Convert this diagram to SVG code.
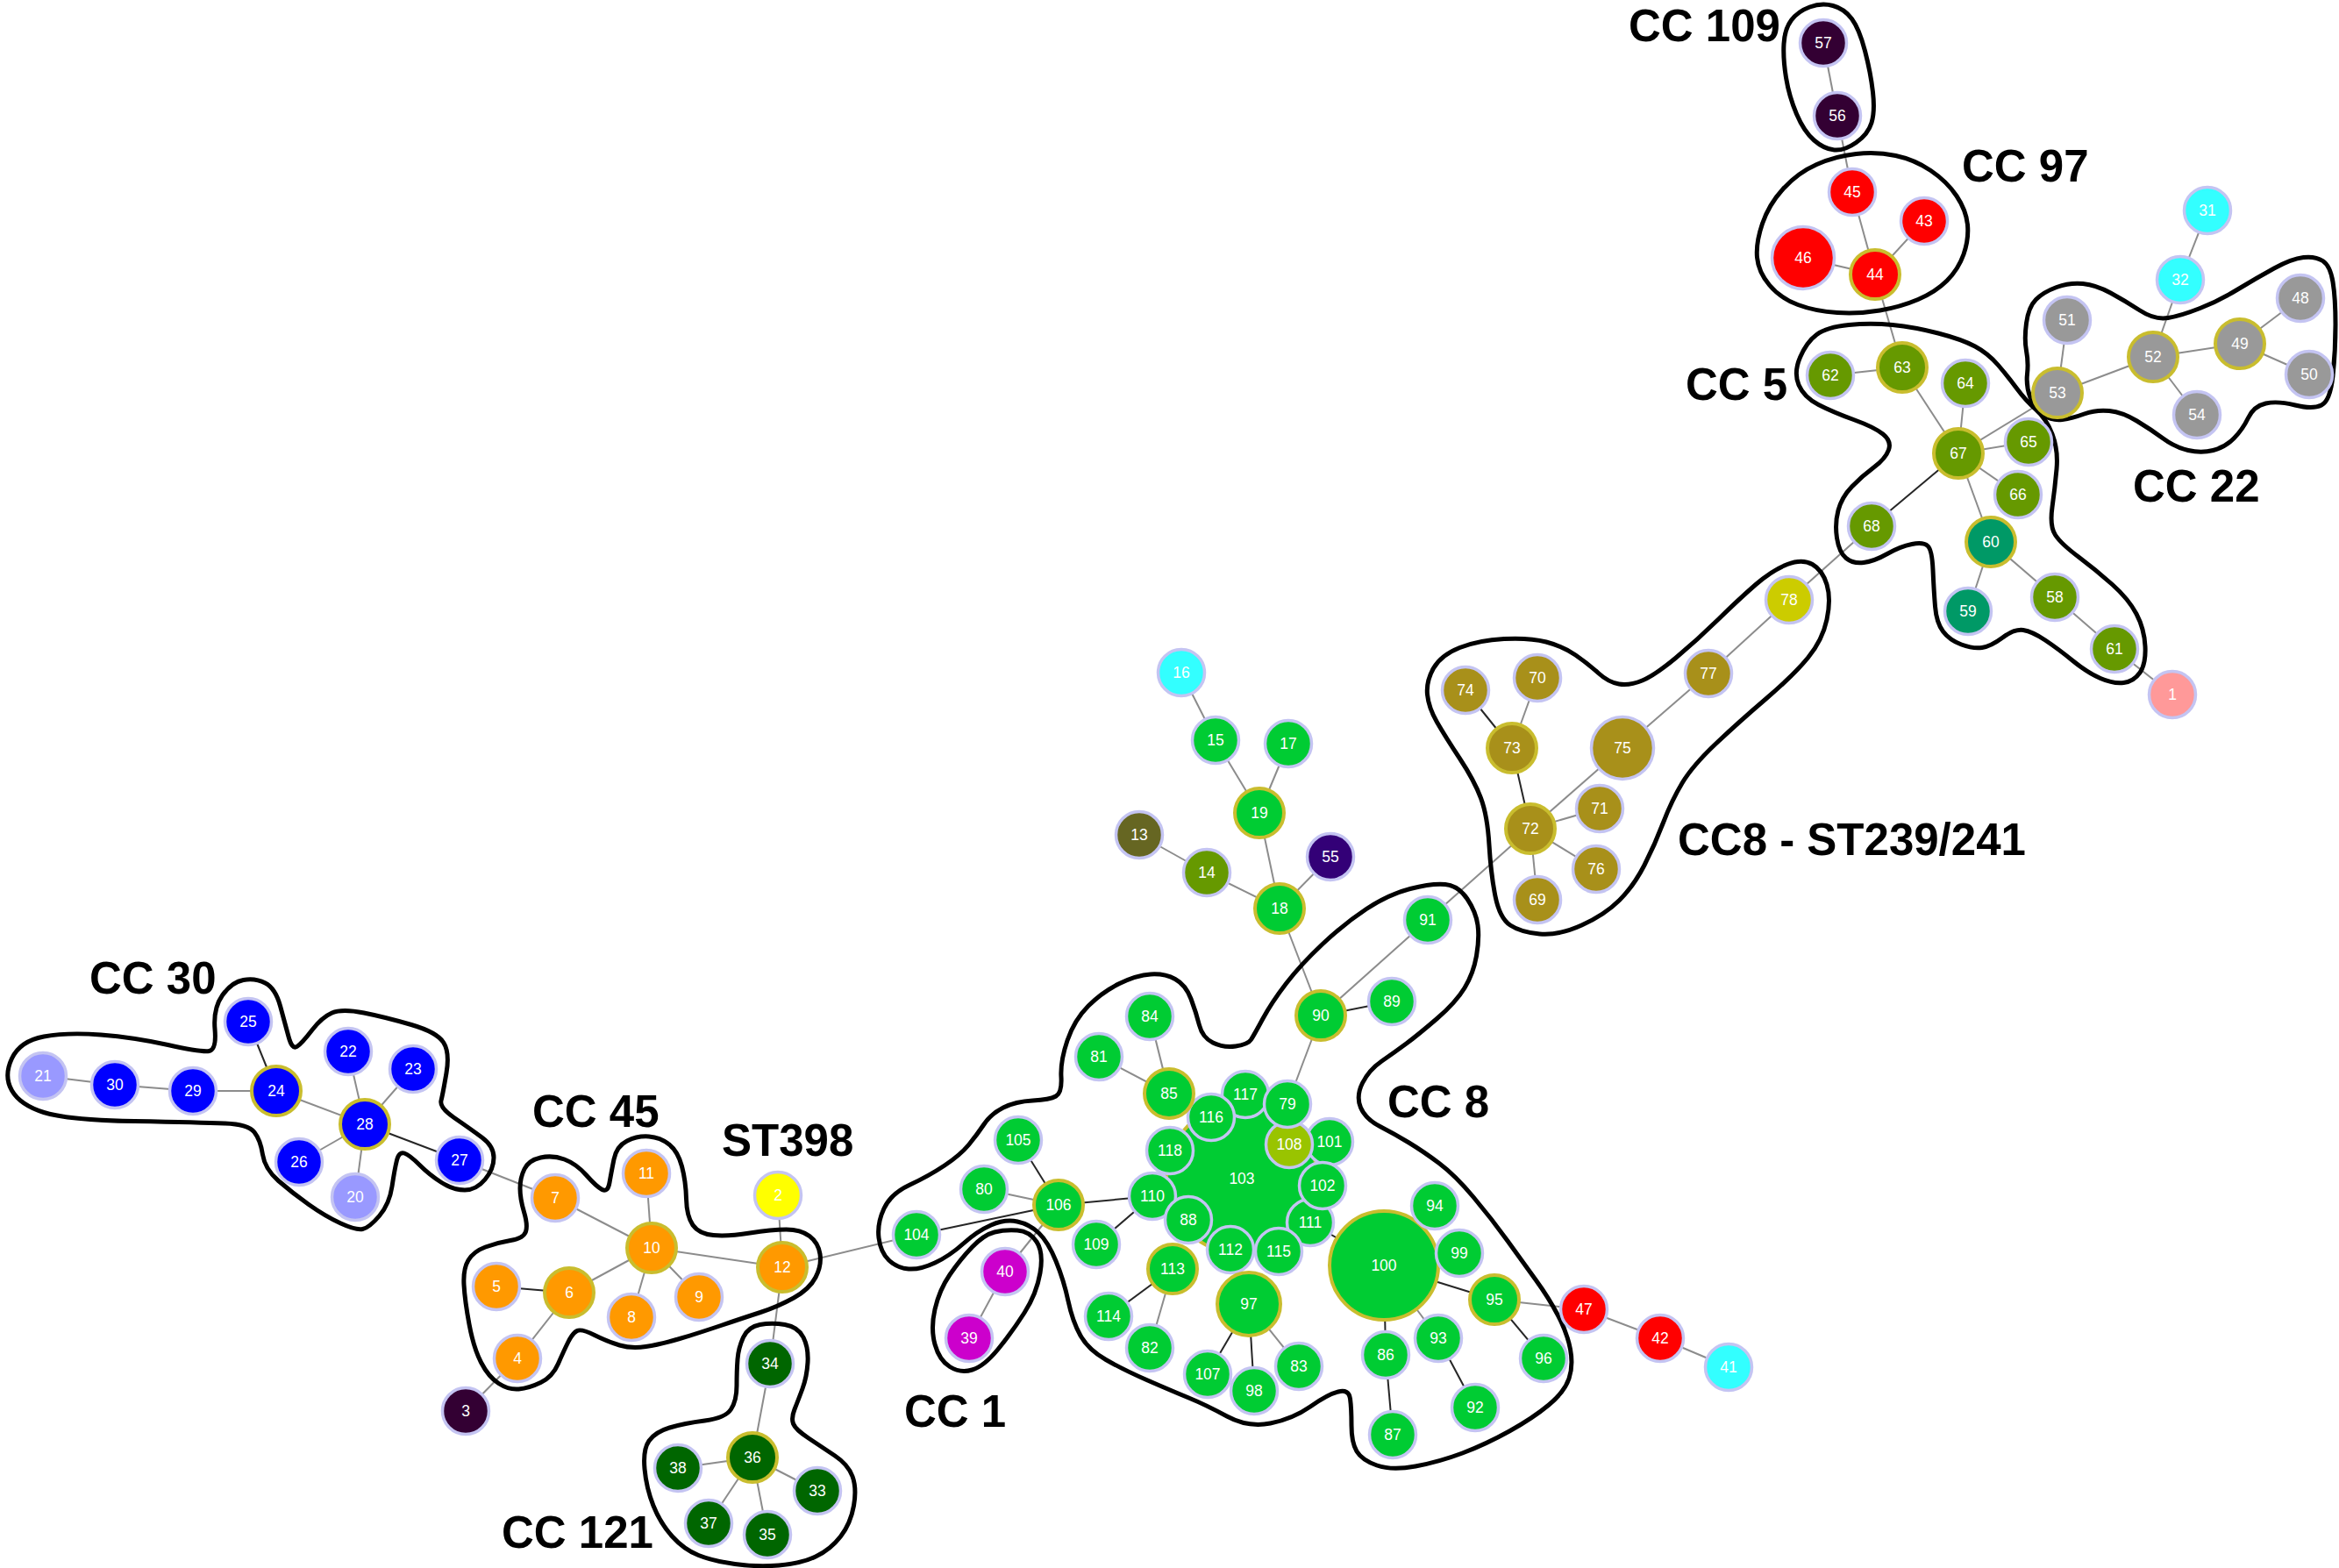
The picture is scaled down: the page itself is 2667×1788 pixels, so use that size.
<svg xmlns="http://www.w3.org/2000/svg" width="2667" height="1788" viewBox="0 0 2667 1788">
<style>
.e{stroke:#8c8c8c;stroke-width:2}
.k{stroke:#262626;stroke-width:2}
.h{fill:none;stroke:#000;stroke-width:5;stroke-linejoin:round}
circle{stroke:#c4c4f2;stroke-width:3.5}
.f circle{stroke:#c9bd2e;stroke-width:4}
.t{fill:#fff;font-family:"Liberation Sans",Arial,sans-serif;font-size:17.5px;text-anchor:middle}
.L{font-family:"Liberation Sans",Arial,sans-serif;font-weight:bold;font-size:51px;fill:#000}
.g{fill:#00cc33}.o{fill:#ff9900}.b{fill:#0000ff}.lb{fill:#9999ff}.dg{fill:#006600}.r{fill:#ff0000}.c{fill:#33ffff}.gy{fill:#999999}.ol{fill:#669900}.tl{fill:#009966}.au{fill:#a8901a}.dp{fill:#330033}.pk{fill:#ff9999}.y{fill:#ffff00}.m{fill:#cc00cc}.yg{fill:#99c400}.yy{fill:#cccc00}.io{fill:#330077}.dk{fill:#666622}
</style>
<rect width="2667" height="1788" fill="#fff"/>
<g id="edges">
<line class="e" x1="49" y1="1227" x2="131" y2="1237"/>
<line class="e" x1="131" y1="1237" x2="220" y2="1244"/>
<line class="e" x1="220" y1="1244" x2="315" y2="1244"/>
<line class="k" x1="315" y1="1244" x2="283" y2="1165"/>
<line class="e" x1="315" y1="1244" x2="416" y2="1282"/>
<line class="e" x1="416" y1="1282" x2="397" y2="1199"/>
<line class="e" x1="416" y1="1282" x2="471" y2="1219"/>
<line class="e" x1="416" y1="1282" x2="341" y2="1325"/>
<line class="e" x1="416" y1="1282" x2="405" y2="1365"/>
<line class="k" x1="416" y1="1282" x2="524" y2="1323"/>
<line class="e" x1="524" y1="1323" x2="633" y2="1366"/>
<line class="e" x1="633" y1="1366" x2="743" y2="1423"/>
<line class="e" x1="737" y1="1338" x2="743" y2="1423"/>
<line class="e" x1="743" y1="1423" x2="649" y2="1474"/>
<line class="e" x1="743" y1="1423" x2="720" y2="1502"/>
<line class="e" x1="743" y1="1423" x2="797" y2="1479"/>
<line class="e" x1="743" y1="1423" x2="892" y2="1445"/>
<line class="k" x1="649" y1="1474" x2="566" y2="1467"/>
<line class="e" x1="649" y1="1474" x2="590" y2="1549"/>
<line class="e" x1="590" y1="1549" x2="531" y2="1609"/>
<line class="e" x1="887" y1="1363" x2="892" y2="1445"/>
<line class="e" x1="892" y1="1445" x2="1045" y2="1408"/>
<line class="e" x1="892" y1="1445" x2="878" y2="1555"/>
<line class="e" x1="878" y1="1555" x2="858" y2="1662"/>
<line class="e" x1="858" y1="1662" x2="773" y2="1674"/>
<line class="e" x1="858" y1="1662" x2="932" y2="1700"/>
<line class="e" x1="858" y1="1662" x2="808" y2="1737"/>
<line class="e" x1="858" y1="1662" x2="875" y2="1750"/>
<line class="k" x1="1045" y1="1408" x2="1207" y2="1374"/>
<line class="k" x1="1207" y1="1374" x2="1161" y2="1300"/>
<line class="e" x1="1207" y1="1374" x2="1122" y2="1356"/>
<line class="k" x1="1207" y1="1374" x2="1314" y2="1364"/>
<line class="e" x1="1207" y1="1374" x2="1146" y2="1450"/>
<line class="e" x1="1146" y1="1450" x2="1105" y2="1526"/>
<line class="k" x1="1314" y1="1364" x2="1250" y2="1419"/>
<line class="e" x1="1333" y1="1247" x2="1311" y2="1159"/>
<line class="e" x1="1333" y1="1247" x2="1253" y2="1205"/>
<line class="e" x1="1506" y1="1158" x2="1468" y2="1259"/>
<line class="k" x1="1506" y1="1158" x2="1587" y2="1142"/>
<line class="e" x1="1506" y1="1158" x2="1628" y2="1049"/>
<line class="e" x1="1506" y1="1158" x2="1459" y2="1036"/>
<line class="e" x1="1459" y1="1036" x2="1436" y2="927"/>
<line class="e" x1="1459" y1="1036" x2="1376" y2="995"/>
<line class="e" x1="1459" y1="1036" x2="1517" y2="977"/>
<line class="e" x1="1376" y1="995" x2="1299" y2="952"/>
<line class="e" x1="1436" y1="927" x2="1386" y2="844"/>
<line class="e" x1="1436" y1="927" x2="1469" y2="848"/>
<line class="e" x1="1386" y1="844" x2="1347" y2="767"/>
<line class="k" x1="1337" y1="1447" x2="1264" y2="1501"/>
<line class="e" x1="1337" y1="1447" x2="1311" y2="1537"/>
<line class="k" x1="1424" y1="1487" x2="1377" y2="1567"/>
<line class="k" x1="1424" y1="1487" x2="1430" y2="1586"/>
<line class="e" x1="1424" y1="1487" x2="1481" y2="1558"/>
<line class="k" x1="1578" y1="1443" x2="1580" y2="1545"/>
<line class="k" x1="1580" y1="1545" x2="1588" y2="1636"/>
<line class="e" x1="1578" y1="1443" x2="1640" y2="1526"/>
<line class="k" x1="1640" y1="1526" x2="1682" y2="1605"/>
<line class="k" x1="1578" y1="1443" x2="1704" y2="1482"/>
<line class="k" x1="1704" y1="1482" x2="1760" y2="1549"/>
<line class="e" x1="1704" y1="1482" x2="1806" y2="1493"/>
<line class="e" x1="1806" y1="1493" x2="1893" y2="1526"/>
<line class="e" x1="1893" y1="1526" x2="1971" y2="1559"/>
<line class="k" x1="1494" y1="1394" x2="1578" y2="1443"/>
<line class="e" x1="1628" y1="1049" x2="1745" y2="945"/>
<line class="e" x1="1745" y1="945" x2="1850" y2="853"/>
<line class="k" x1="1745" y1="945" x2="1724" y2="853"/>
<line class="k" x1="1724" y1="853" x2="1671" y2="787"/>
<line class="e" x1="1724" y1="853" x2="1753" y2="773"/>
<line class="e" x1="1745" y1="945" x2="1824" y2="922"/>
<line class="e" x1="1745" y1="945" x2="1820" y2="991"/>
<line class="e" x1="1745" y1="945" x2="1753" y2="1026"/>
<line class="e" x1="1850" y1="853" x2="1948" y2="768"/>
<line class="e" x1="1948" y1="768" x2="2040" y2="684"/>
<line class="e" x1="2040" y1="684" x2="2134" y2="600"/>
<line class="k" x1="2134" y1="600" x2="2233" y2="517"/>
<line class="e" x1="2233" y1="517" x2="2169" y2="419"/>
<line class="e" x1="2169" y1="419" x2="2087" y2="428"/>
<line class="e" x1="2169" y1="419" x2="2138" y2="313"/>
<line class="e" x1="2233" y1="517" x2="2241" y2="437"/>
<line class="e" x1="2233" y1="517" x2="2313" y2="504"/>
<line class="e" x1="2233" y1="517" x2="2346" y2="448"/>
<line class="e" x1="2233" y1="517" x2="2301" y2="564"/>
<line class="e" x1="2233" y1="517" x2="2270" y2="618"/>
<line class="e" x1="2270" y1="618" x2="2244" y2="697"/>
<line class="e" x1="2270" y1="618" x2="2343" y2="681"/>
<line class="e" x1="2343" y1="681" x2="2411" y2="740"/>
<line class="e" x1="2411" y1="740" x2="2477" y2="792"/>
<line class="e" x1="2346" y1="448" x2="2357" y2="365"/>
<line class="e" x1="2346" y1="448" x2="2455" y2="407"/>
<line class="e" x1="2455" y1="407" x2="2486" y2="319"/>
<line class="e" x1="2486" y1="319" x2="2517" y2="240"/>
<line class="e" x1="2455" y1="407" x2="2554" y2="392"/>
<line class="e" x1="2455" y1="407" x2="2505" y2="473"/>
<line class="e" x1="2554" y1="392" x2="2623" y2="340"/>
<line class="e" x1="2554" y1="392" x2="2633" y2="427"/>
<line class="e" x1="2138" y1="313" x2="2112" y2="219"/>
<line class="e" x1="2138" y1="313" x2="2056" y2="294"/>
<line class="e" x1="2138" y1="313" x2="2194" y2="252"/>
<line class="e" x1="2112" y1="219" x2="2095" y2="132"/>
<line class="e" x1="2095" y1="132" x2="2079" y2="49"/>
</g>
<g id="hulls">
<path id="hull-cc30" class="h" d="M 13.5,1243.5 Q 4,1227 13.5,1207 Q 23,1187 50,1182 Q 77,1177 115,1180 Q 153,1183 191.5,1191.5 Q 230,1200 238.5,1198.5 Q 247,1197 245,1173.5 Q 243,1150 253.5,1135 Q 264,1120 277.5,1117.5 Q 291,1115 302.5,1121 Q 314,1127 319.5,1147 Q 325,1167 329,1182 Q 333,1197 338.5,1193.5 Q 344,1190 355.5,1175 Q 367,1160 378.5,1155 Q 390,1150 415,1155 Q 440,1160 469,1168.5 Q 498,1177 505.5,1188.5 Q 513,1200 509,1223.5 Q 505,1247 503,1255 Q 501,1263 518.5,1275 Q 536,1287 549.5,1297 Q 563,1307 563,1320 Q 563,1333 553,1345 Q 543,1357 530,1357 Q 517,1357 503.5,1348.5 Q 490,1340 478.5,1328.5 Q 467,1317 461,1315 Q 455,1313 452.5,1323 Q 450,1333 447,1353 Q 444,1373 432.5,1386.5 Q 421,1400 413.5,1401.5 Q 406,1403 388.5,1395 Q 371,1387 352,1373.5 Q 333,1360 317.5,1346.5 Q 302,1333 299.5,1316.5 Q 297,1300 290,1291 Q 283,1282 256.5,1281 Q 230,1280 153.5,1278.5 Q 77,1277 50,1268.5 Q 23,1260 13.5,1243.5 Z"/>
<path id="hull-cc45" class="h" d="M 593,1355 Q 593,1343 598,1333 Q 603,1323 616.5,1320 Q 630,1317 643.5,1322 Q 657,1327 668.5,1340 Q 680,1353 686.5,1356.5 Q 693,1360 695,1348.5 Q 697,1337 700,1322 Q 703,1307 715,1301 Q 727,1295 740,1296 Q 753,1297 763,1305 Q 773,1313 777.5,1330 Q 782,1347 782.5,1367 Q 783,1387 790,1397 Q 797,1407 813.5,1408.5 Q 830,1410 855,1406 Q 880,1402 896.5,1402 Q 913,1402 923,1409.5 Q 933,1417 935,1430 Q 937,1443 930,1456.5 Q 923,1470 905,1480 Q 887,1490 867,1496.5 Q 847,1503 822,1511.5 Q 797,1520 775,1526.5 Q 753,1533 736.5,1535.5 Q 720,1538 706.5,1534 Q 693,1530 678,1522.5 Q 663,1515 658,1517.5 Q 653,1520 648,1530 Q 643,1540 636.5,1555 Q 630,1570 616.5,1576.5 Q 603,1583 591.5,1584 Q 580,1585 568.5,1577.5 Q 557,1570 548.5,1553.5 Q 540,1537 535,1510 Q 530,1483 529,1465 Q 528,1447 534,1437 Q 540,1427 553.5,1422 Q 567,1417 582,1414.5 Q 597,1412 599.5,1404.5 Q 602,1397 597.5,1382 Q 593,1367 593,1355 Z"/>
<path id="hull-cc121" class="h" d="M 841,1550 Q 842,1537 847.5,1525 Q 853,1513 866.5,1510.5 Q 880,1508 895,1510.5 Q 910,1513 916,1525 Q 922,1537 921,1553.5 Q 920,1570 915,1583.5 Q 910,1597 906,1607 Q 902,1617 904.5,1623.5 Q 907,1630 922,1640 Q 937,1650 952,1660 Q 967,1670 972,1683.5 Q 977,1697 973.5,1717 Q 970,1737 958.5,1752 Q 947,1767 930,1775 Q 913,1783 888,1785 Q 863,1787 838,1783.5 Q 813,1780 796.5,1773.5 Q 780,1767 766.5,1752 Q 753,1737 745,1717 Q 737,1697 735,1675 Q 733,1653 740,1643 Q 747,1633 763.5,1628 Q 780,1623 803.5,1620 Q 827,1617 833.5,1607 Q 840,1597 840,1580 Q 840,1563 841,1550 Z"/>
<path id="hull-cc1" class="h" d="M 1134,1405 Q 1146,1402 1160,1403 Q 1174,1404 1182,1416 Q 1190,1428 1186,1451.5 Q 1182,1475 1168,1497 Q 1154,1519 1138,1538.5 Q 1122,1558 1108.5,1562 Q 1095,1566 1083,1558.5 Q 1071,1551 1066,1533 Q 1061,1515 1066,1493 Q 1071,1471 1083,1453.5 Q 1095,1436 1108.5,1422 Q 1122,1408 1134,1405 Z"/>
<path id="hull-cc8" class="h" d="M 1426.5,1185.5 Q 1430,1180 1440,1161.5 Q 1450,1143 1466.5,1121.5 Q 1483,1100 1508,1076.5 Q 1533,1053 1558,1036.5 Q 1583,1020 1608,1013.5 Q 1633,1007 1648,1008.5 Q 1663,1010 1673,1025 Q 1683,1040 1685,1055 Q 1687,1070 1683.5,1090 Q 1680,1110 1670,1126.5 Q 1660,1143 1638.5,1161.5 Q 1617,1180 1603.5,1190 Q 1590,1200 1575.5,1210 Q 1561,1220 1553.5,1235 Q 1546,1250 1551.5,1263 Q 1557,1276 1573.5,1284.5 Q 1590,1293 1606.5,1303 Q 1623,1313 1641,1326.5 Q 1659,1340 1680,1365 Q 1701,1390 1719,1415 Q 1737,1440 1751.5,1460 Q 1766,1480 1776.5,1500 Q 1787,1520 1790.5,1538.5 Q 1794,1557 1789,1572 Q 1784,1587 1766,1602 Q 1748,1617 1721,1632 Q 1694,1647 1667.5,1657 Q 1641,1667 1614,1672 Q 1587,1677 1570,1671 Q 1553,1665 1547,1655 Q 1541,1645 1541,1625.5 Q 1541,1606 1539.5,1595 Q 1538,1584 1526,1587 Q 1514,1590 1494,1604 Q 1474,1618 1448.5,1623 Q 1423,1628 1399,1615 Q 1375,1602 1355.5,1594 Q 1336,1586 1308.5,1574 Q 1281,1562 1261,1550.5 Q 1241,1539 1232,1523 Q 1223,1507 1218,1483.5 Q 1213,1460 1204,1438 Q 1195,1416 1184.5,1406 Q 1174,1396 1160,1393 Q 1146,1390 1130,1397 Q 1114,1404 1098.5,1418 Q 1083,1432 1066,1440 Q 1049,1448 1036,1447 Q 1023,1446 1013.5,1437 Q 1004,1428 1002,1411.5 Q 1000,1395 1008,1378 Q 1016,1361 1037.5,1351 Q 1059,1341 1077,1329 Q 1095,1317 1104.5,1305.5 Q 1114,1294 1122,1282 Q 1130,1270 1144,1263 Q 1158,1256 1177.5,1255 Q 1197,1254 1204,1250 Q 1211,1246 1210,1228 Q 1209,1210 1217,1186.5 Q 1225,1163 1241,1147 Q 1257,1131 1276.5,1121.5 Q 1296,1112 1312,1111 Q 1328,1110 1340,1116.5 Q 1352,1123 1358,1139 Q 1364,1155 1367.5,1169 Q 1371,1183 1383,1189 Q 1395,1195 1409,1193 Q 1423,1191 1426.5,1185.5 Z"/>
<path id="hull-st239" class="h" d="M 1627.5,792 Q 1626,777 1634.5,762 Q 1643,747 1664.5,738.5 Q 1686,730 1715,728.5 Q 1744,727 1763,732 Q 1782,737 1796.5,747 Q 1811,757 1822.5,767.5 Q 1834,778 1846,780 Q 1858,782 1872.5,776 Q 1887,770 1911,750 Q 1935,730 1959,706.5 Q 1983,683 2002,666.5 Q 2021,650 2038,643.5 Q 2055,637 2066.5,643.5 Q 2078,650 2083,666.5 Q 2088,683 2083,706.5 Q 2078,730 2061.5,750 Q 2045,770 2014,796.5 Q 1983,823 1956.5,848 Q 1930,873 1918,893 Q 1906,913 1896.5,938 Q 1887,963 1875,986.5 Q 1863,1010 1846.5,1026.5 Q 1830,1043 1803.5,1055 Q 1777,1067 1755.5,1065 Q 1734,1063 1722,1055 Q 1710,1047 1705,1022 Q 1700,997 1698,963.5 Q 1696,930 1688.5,910 Q 1681,890 1664.5,865 Q 1648,840 1638.5,823.5 Q 1629,807 1627.5,792 Z"/>
<path id="hull-cc5" class="h" d="M 2052.5,407.5 Q 2060,390 2071.5,381.5 Q 2083,373 2108,370.5 Q 2133,368 2158,370.5 Q 2183,373 2210,380 Q 2237,387 2252,395 Q 2267,403 2278.5,416.5 Q 2290,430 2300,443.5 Q 2310,457 2321.5,467 Q 2333,477 2340,495 Q 2347,513 2345,535 Q 2343,557 2340,578.5 Q 2337,600 2343.5,610 Q 2350,620 2370,635 Q 2390,650 2408.5,666.5 Q 2427,683 2436,700 Q 2445,717 2446,737 Q 2447,757 2440,767 Q 2433,777 2421.5,778.5 Q 2410,780 2395,773.5 Q 2380,767 2363.5,753.5 Q 2347,740 2332,730 Q 2317,720 2307,718.5 Q 2297,717 2283.5,727 Q 2270,737 2260,738.5 Q 2250,740 2236.5,735 Q 2223,730 2215.5,720 Q 2208,710 2206.5,691.5 Q 2205,673 2204,650 Q 2203,627 2198,622.5 Q 2193,618 2180,620.5 Q 2167,623 2152,631.5 Q 2137,640 2125,641.5 Q 2113,643 2105,636.5 Q 2097,630 2094.5,613.5 Q 2092,597 2096,582 Q 2100,567 2111.5,555 Q 2123,543 2136.5,533 Q 2150,523 2153.5,513 Q 2157,503 2147,495 Q 2137,487 2113.5,478.5 Q 2090,470 2073.5,461.5 Q 2057,453 2051,439 Q 2045,425 2052.5,407.5 Z"/>
<path id="hull-cc22" class="h" d="M 2310.5,400 Q 2308,387 2310.5,368.5 Q 2313,350 2321.5,341.5 Q 2330,333 2345,327.5 Q 2360,322 2375,323.5 Q 2390,325 2406.5,334 Q 2423,343 2440,354 Q 2457,365 2472,362.5 Q 2487,360 2508.5,351.5 Q 2530,343 2551.5,330 Q 2573,317 2593,306 Q 2613,295 2626.5,293.5 Q 2640,292 2648.5,297.5 Q 2657,303 2660,321.5 Q 2663,340 2663,370 Q 2663,400 2660,428.5 Q 2657,457 2647,462 Q 2637,467 2617,462 Q 2597,457 2583.5,460 Q 2570,463 2563.5,476.5 Q 2557,490 2547,500 Q 2537,510 2523.5,513.5 Q 2510,517 2495,513.5 Q 2480,510 2466.5,500 Q 2453,490 2436.5,480 Q 2420,470 2405,468.5 Q 2390,467 2376.5,472 Q 2363,477 2351.5,478.5 Q 2340,480 2330,473.5 Q 2320,467 2315,453.5 Q 2310,440 2311.5,426.5 Q 2313,413 2310.5,400 Z"/>
<path id="hull-cc97" class="h" d="M 2003.5,293.5 Q 2002,277 2009.5,255 Q 2017,233 2033.5,215 Q 2050,197 2071.5,187.5 Q 2093,178 2116.5,175.5 Q 2140,173 2161.5,177.5 Q 2183,182 2201.5,194.5 Q 2220,207 2231,223.5 Q 2242,240 2243.5,256.5 Q 2245,273 2239,290 Q 2233,307 2220,320 Q 2207,333 2187,341.5 Q 2167,350 2143.5,354 Q 2120,358 2095,356.5 Q 2070,355 2050,347.5 Q 2030,340 2017.5,325 Q 2005,310 2003.5,293.5 Z"/>
<path id="hull-cc109" class="h" d="M 2034,50 Q 2035,33 2042.5,23 Q 2050,13 2063.5,8 Q 2077,3 2090,6.5 Q 2103,10 2111.5,21.5 Q 2120,33 2126.5,58 Q 2133,83 2135.5,105 Q 2138,127 2134,140 Q 2130,153 2116.5,162.5 Q 2103,172 2091.5,171 Q 2080,170 2068.5,160 Q 2057,150 2048.5,130 Q 2040,110 2036.5,88.5 Q 2033,67 2034,50 Z"/>
</g>
<g id="nodes">
<g id="n1"><circle class="pk" cx="2477" cy="792" r="26.5"/><text class="t" x="2477" y="798">1</text></g>
<g id="n2"><circle class="y" cx="887" cy="1363" r="26.5"/><text class="t" x="887" y="1369">2</text></g>
<g id="n3"><circle class="dp" cx="531" cy="1609" r="26.5"/><text class="t" x="531" y="1615">3</text></g>
<g id="n4"><circle class="o" cx="590" cy="1549" r="26.5"/><text class="t" x="590" y="1555">4</text></g>
<g id="n5"><circle class="o" cx="566" cy="1467" r="26.5"/><text class="t" x="566" y="1473">5</text></g>
<g id="n6" class="f"><circle class="o" cx="649" cy="1474" r="28"/><text class="t" x="649" y="1480">6</text></g>
<g id="n7"><circle class="o" cx="633" cy="1366" r="26.5"/><text class="t" x="633" y="1372">7</text></g>
<g id="n8"><circle class="o" cx="720" cy="1502" r="26.5"/><text class="t" x="720" y="1508">8</text></g>
<g id="n9"><circle class="o" cx="797" cy="1479" r="26.5"/><text class="t" x="797" y="1485">9</text></g>
<g id="n10" class="f"><circle class="o" cx="743" cy="1423" r="28"/><text class="t" x="743" y="1429">10</text></g>
<g id="n11"><circle class="o" cx="737" cy="1338" r="26.5"/><text class="t" x="737" y="1344">11</text></g>
<g id="n12" class="f"><circle class="o" cx="892" cy="1445" r="28"/><text class="t" x="892" y="1451">12</text></g>
<g id="n13"><circle class="dk" cx="1299" cy="952" r="26.5"/><text class="t" x="1299" y="958">13</text></g>
<g id="n14"><circle class="ol" cx="1376" cy="995" r="26.5"/><text class="t" x="1376" y="1001">14</text></g>
<g id="n15"><circle class="g" cx="1386" cy="844" r="26.5"/><text class="t" x="1386" y="850">15</text></g>
<g id="n16"><circle class="c" cx="1347" cy="767" r="26.5"/><text class="t" x="1347" y="773">16</text></g>
<g id="n17"><circle class="g" cx="1469" cy="848" r="26.5"/><text class="t" x="1469" y="854">17</text></g>
<g id="n18" class="f"><circle class="g" cx="1459" cy="1036" r="28"/><text class="t" x="1459" y="1042">18</text></g>
<g id="n19" class="f"><circle class="g" cx="1436" cy="927" r="28"/><text class="t" x="1436" y="933">19</text></g>
<g id="n20"><circle class="lb" cx="405" cy="1365" r="26.5"/><text class="t" x="405" y="1371">20</text></g>
<g id="n21"><circle class="lb" cx="49" cy="1227" r="26.5"/><text class="t" x="49" y="1233">21</text></g>
<g id="n22"><circle class="b" cx="397" cy="1199" r="26.5"/><text class="t" x="397" y="1205">22</text></g>
<g id="n23"><circle class="b" cx="471" cy="1219" r="26.5"/><text class="t" x="471" y="1225">23</text></g>
<g id="n24" class="f"><circle class="b" cx="315" cy="1244" r="28"/><text class="t" x="315" y="1250">24</text></g>
<g id="n25"><circle class="b" cx="283" cy="1165" r="26.5"/><text class="t" x="283" y="1171">25</text></g>
<g id="n26"><circle class="b" cx="341" cy="1325" r="26.5"/><text class="t" x="341" y="1331">26</text></g>
<g id="n27"><circle class="b" cx="524" cy="1323" r="26.5"/><text class="t" x="524" y="1329">27</text></g>
<g id="n28" class="f"><circle class="b" cx="416" cy="1282" r="28"/><text class="t" x="416" y="1288">28</text></g>
<g id="n29"><circle class="b" cx="220" cy="1244" r="26.5"/><text class="t" x="220" y="1250">29</text></g>
<g id="n30"><circle class="b" cx="131" cy="1237" r="26.5"/><text class="t" x="131" y="1243">30</text></g>
<g id="n31"><circle class="c" cx="2517" cy="240" r="26.5"/><text class="t" x="2517" y="246">31</text></g>
<g id="n32"><circle class="c" cx="2486" cy="319" r="26.5"/><text class="t" x="2486" y="325">32</text></g>
<g id="n33"><circle class="dg" cx="932" cy="1700" r="26.5"/><text class="t" x="932" y="1706">33</text></g>
<g id="n34"><circle class="dg" cx="878" cy="1555" r="26.5"/><text class="t" x="878" y="1561">34</text></g>
<g id="n35"><circle class="dg" cx="875" cy="1750" r="26.5"/><text class="t" x="875" y="1756">35</text></g>
<g id="n36" class="f"><circle class="dg" cx="858" cy="1662" r="28"/><text class="t" x="858" y="1668">36</text></g>
<g id="n37"><circle class="dg" cx="808" cy="1737" r="26.5"/><text class="t" x="808" y="1743">37</text></g>
<g id="n38"><circle class="dg" cx="773" cy="1674" r="26.5"/><text class="t" x="773" y="1680">38</text></g>
<g id="n39"><circle class="m" cx="1105" cy="1526" r="26.5"/><text class="t" x="1105" y="1532">39</text></g>
<g id="n40"><circle class="m" cx="1146" cy="1450" r="26.5"/><text class="t" x="1146" y="1456">40</text></g>
<g id="n41"><circle class="c" cx="1971" cy="1559" r="26.5"/><text class="t" x="1971" y="1565">41</text></g>
<g id="n42"><circle class="r" cx="1893" cy="1526" r="26.5"/><text class="t" x="1893" y="1532">42</text></g>
<g id="n43"><circle class="r" cx="2194" cy="252" r="26.5"/><text class="t" x="2194" y="258">43</text></g>
<g id="n44" class="f"><circle class="r" cx="2138" cy="313" r="28"/><text class="t" x="2138" y="319">44</text></g>
<g id="n45"><circle class="r" cx="2112" cy="219" r="26.5"/><text class="t" x="2112" y="225">45</text></g>
<g id="n46"><circle class="r" cx="2056" cy="294" r="35.5"/><text class="t" x="2056" y="300">46</text></g>
<g id="n47"><circle class="r" cx="1806" cy="1493" r="26.5"/><text class="t" x="1806" y="1499">47</text></g>
<g id="n48"><circle class="gy" cx="2623" cy="340" r="26.5"/><text class="t" x="2623" y="346">48</text></g>
<g id="n49" class="f"><circle class="gy" cx="2554" cy="392" r="28"/><text class="t" x="2554" y="398">49</text></g>
<g id="n50"><circle class="gy" cx="2633" cy="427" r="26.5"/><text class="t" x="2633" y="433">50</text></g>
<g id="n51"><circle class="gy" cx="2357" cy="365" r="26.5"/><text class="t" x="2357" y="371">51</text></g>
<g id="n52" class="f"><circle class="gy" cx="2455" cy="407" r="28"/><text class="t" x="2455" y="413">52</text></g>
<g id="n53" class="f"><circle class="gy" cx="2346" cy="448" r="28"/><text class="t" x="2346" y="454">53</text></g>
<g id="n54"><circle class="gy" cx="2505" cy="473" r="26.5"/><text class="t" x="2505" y="479">54</text></g>
<g id="n55"><circle class="io" cx="1517" cy="977" r="26.5"/><text class="t" x="1517" y="983">55</text></g>
<g id="n56"><circle class="dp" cx="2095" cy="132" r="26.5"/><text class="t" x="2095" y="138">56</text></g>
<g id="n57"><circle class="dp" cx="2079" cy="49" r="26.5"/><text class="t" x="2079" y="55">57</text></g>
<g id="n58"><circle class="ol" cx="2343" cy="681" r="26.5"/><text class="t" x="2343" y="687">58</text></g>
<g id="n59"><circle class="tl" cx="2244" cy="697" r="26.5"/><text class="t" x="2244" y="703">59</text></g>
<g id="n60" class="f"><circle class="tl" cx="2270" cy="618" r="28"/><text class="t" x="2270" y="624">60</text></g>
<g id="n61"><circle class="ol" cx="2411" cy="740" r="26.5"/><text class="t" x="2411" y="746">61</text></g>
<g id="n62"><circle class="ol" cx="2087" cy="428" r="26.5"/><text class="t" x="2087" y="434">62</text></g>
<g id="n63" class="f"><circle class="ol" cx="2169" cy="419" r="28"/><text class="t" x="2169" y="425">63</text></g>
<g id="n64"><circle class="ol" cx="2241" cy="437" r="26.5"/><text class="t" x="2241" y="443">64</text></g>
<g id="n65"><circle class="ol" cx="2313" cy="504" r="26.5"/><text class="t" x="2313" y="510">65</text></g>
<g id="n66"><circle class="ol" cx="2301" cy="564" r="26.5"/><text class="t" x="2301" y="570">66</text></g>
<g id="n67" class="f"><circle class="ol" cx="2233" cy="517" r="28"/><text class="t" x="2233" y="523">67</text></g>
<g id="n68"><circle class="ol" cx="2134" cy="600" r="26.5"/><text class="t" x="2134" y="606">68</text></g>
<g id="n69"><circle class="au" cx="1753" cy="1026" r="26.5"/><text class="t" x="1753" y="1032">69</text></g>
<g id="n70"><circle class="au" cx="1753" cy="773" r="26.5"/><text class="t" x="1753" y="779">70</text></g>
<g id="n71"><circle class="au" cx="1824" cy="922" r="26.5"/><text class="t" x="1824" y="928">71</text></g>
<g id="n72" class="f"><circle class="au" cx="1745" cy="945" r="28"/><text class="t" x="1745" y="951">72</text></g>
<g id="n73" class="f"><circle class="au" cx="1724" cy="853" r="28"/><text class="t" x="1724" y="859">73</text></g>
<g id="n74"><circle class="au" cx="1671" cy="787" r="26.5"/><text class="t" x="1671" y="793">74</text></g>
<g id="n75"><circle class="au" cx="1850" cy="853" r="35.5"/><text class="t" x="1850" y="859">75</text></g>
<g id="n76"><circle class="au" cx="1820" cy="991" r="26.5"/><text class="t" x="1820" y="997">76</text></g>
<g id="n77"><circle class="au" cx="1948" cy="768" r="26.5"/><text class="t" x="1948" y="774">77</text></g>
<g id="n78"><circle class="yy" cx="2040" cy="684" r="26.5"/><text class="t" x="2040" y="690">78</text></g>
<g id="n80"><circle class="g" cx="1122" cy="1356" r="26.5"/><text class="t" x="1122" y="1362">80</text></g>
<g id="n81"><circle class="g" cx="1253" cy="1205" r="26.5"/><text class="t" x="1253" y="1211">81</text></g>
<g id="n82"><circle class="g" cx="1311" cy="1537" r="26.5"/><text class="t" x="1311" y="1543">82</text></g>
<g id="n83"><circle class="g" cx="1481" cy="1558" r="26.5"/><text class="t" x="1481" y="1564">83</text></g>
<g id="n84"><circle class="g" cx="1311" cy="1159" r="26.5"/><text class="t" x="1311" y="1165">84</text></g>
<g id="n86"><circle class="g" cx="1580" cy="1545" r="26.5"/><text class="t" x="1580" y="1551">86</text></g>
<g id="n87"><circle class="g" cx="1588" cy="1636" r="26.5"/><text class="t" x="1588" y="1642">87</text></g>
<g id="n89"><circle class="g" cx="1587" cy="1142" r="26.5"/><text class="t" x="1587" y="1148">89</text></g>
<g id="n90" class="f"><circle class="g" cx="1506" cy="1158" r="28"/><text class="t" x="1506" y="1164">90</text></g>
<g id="n91"><circle class="g" cx="1628" cy="1049" r="26.5"/><text class="t" x="1628" y="1055">91</text></g>
<g id="n92"><circle class="g" cx="1682" cy="1605" r="26.5"/><text class="t" x="1682" y="1611">92</text></g>
<g id="n93"><circle class="g" cx="1640" cy="1526" r="26.5"/><text class="t" x="1640" y="1532">93</text></g>
<g id="n95" class="f"><circle class="g" cx="1704" cy="1482" r="28"/><text class="t" x="1704" y="1488">95</text></g>
<g id="n96"><circle class="g" cx="1760" cy="1549" r="26.5"/><text class="t" x="1760" y="1555">96</text></g>
<g id="n98"><circle class="g" cx="1430" cy="1586" r="26.5"/><text class="t" x="1430" y="1592">98</text></g>
<g id="n100" class="f"><circle class="g" cx="1578" cy="1443" r="62"/><text class="t" x="1578" y="1449">100</text></g>
<g id="n94"><circle class="g" cx="1636" cy="1375" r="26.5"/><text class="t" x="1636" y="1381">94</text></g>
<g id="n99"><circle class="g" cx="1664" cy="1429" r="26.5"/><text class="t" x="1664" y="1435">99</text></g>
<g id="n104"><circle class="g" cx="1045" cy="1408" r="26.5"/><text class="t" x="1045" y="1414">104</text></g>
<g id="n105"><circle class="g" cx="1161" cy="1300" r="26.5"/><text class="t" x="1161" y="1306">105</text></g>
<g id="n106" class="f"><circle class="g" cx="1207" cy="1374" r="28"/><text class="t" x="1207" y="1380">106</text></g>
<g id="n107"><circle class="g" cx="1377" cy="1567" r="26.5"/><text class="t" x="1377" y="1573">107</text></g>
<g id="n109"><circle class="g" cx="1250" cy="1419" r="26.5"/><text class="t" x="1250" y="1425">109</text></g>
<g id="n114"><circle class="g" cx="1264" cy="1501" r="26.5"/><text class="t" x="1264" y="1507">114</text></g>
<g id="n103" class="f"><circle class="g" cx="1416" cy="1344" r="86"/><text class="t" x="1416" y="1350">103</text></g>
<g id="n117"><circle class="g" cx="1420" cy="1248" r="26.5"/><text class="t" x="1420" y="1254">117</text></g>
<g id="n110"><circle class="g" cx="1314" cy="1364" r="26.5"/><text class="t" x="1314" y="1370">110</text></g>
<g id="n88"><circle class="g" cx="1355" cy="1391" r="26.5"/><text class="t" x="1355" y="1397">88</text></g>
<g id="n118"><circle class="g" cx="1334" cy="1312" r="26.5"/><text class="t" x="1334" y="1318">118</text></g>
<g id="n116"><circle class="g" cx="1381" cy="1274" r="26.5"/><text class="t" x="1381" y="1280">116</text></g>
<g id="n112"><circle class="g" cx="1403" cy="1425" r="26.5"/><text class="t" x="1403" y="1431">112</text></g>
<g id="n111"><circle class="g" cx="1494" cy="1394" r="26.5"/><text class="t" x="1494" y="1400">111</text></g>
<g id="n115"><circle class="g" cx="1458" cy="1427" r="26.5"/><text class="t" x="1458" y="1433">115</text></g>
<g id="n101"><circle class="g" cx="1516" cy="1302" r="26.5"/><text class="t" x="1516" y="1308">101</text></g>
<g id="n108"><circle class="yg" cx="1470" cy="1305" r="26.5"/><text class="t" x="1470" y="1311">108</text></g>
<g id="n79"><circle class="g" cx="1468" cy="1259" r="26.5"/><text class="t" x="1468" y="1265">79</text></g>
<g id="n102"><circle class="g" cx="1508" cy="1352" r="26.5"/><text class="t" x="1508" y="1358">102</text></g>
<g id="n113" class="f"><circle class="g" cx="1337" cy="1447" r="28"/><text class="t" x="1337" y="1453">113</text></g>
<g id="n97" class="f"><circle class="g" cx="1424" cy="1487" r="36"/><text class="t" x="1424" y="1493">97</text></g>
<g id="n85" class="f"><circle class="g" cx="1333" cy="1247" r="28"/><text class="t" x="1333" y="1253">85</text></g>
</g>
<g id="labels">
<text class="L" x="102" y="1133">CC 30</text>
<text class="L" x="607" y="1285">CC 45</text>
<text class="L" x="823" y="1318">ST398</text>
<text class="L" x="572" y="1765">CC 121</text>
<text class="L" x="1031" y="1627">CC 1</text>
<text class="L" x="1582" y="1274">CC 8</text>
<text class="L" x="1913" y="975">CC8 - ST239/241</text>
<text class="L" x="1922" y="456">CC 5</text>
<text class="L" x="2432" y="572">CC 22</text>
<text class="L" x="2237" y="207">CC 97</text>
<text class="L" x="1857" y="47">CC 109</text>
</g>
</svg>
